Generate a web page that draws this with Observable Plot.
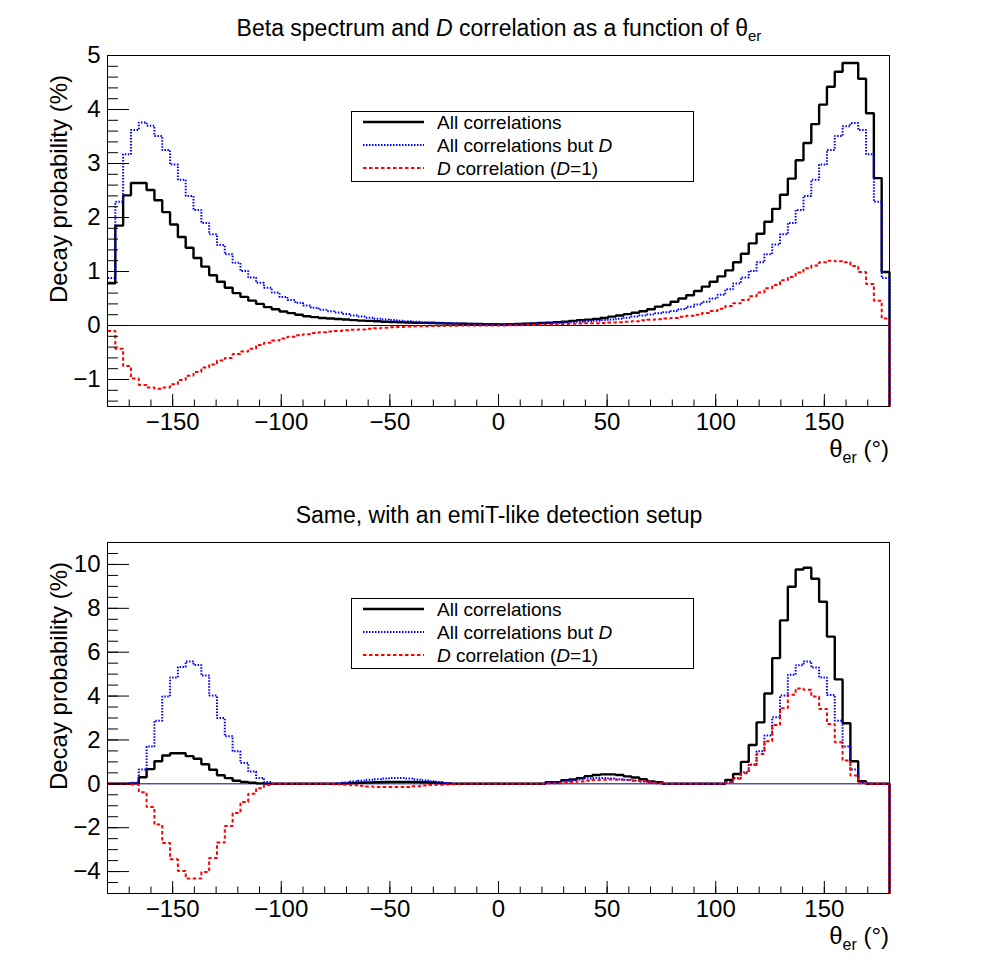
<!DOCTYPE html>
<html>
<head>
<meta charset="utf-8">
<script src="https://cdn.jsdelivr.net/npm/d3@7"></script>
<script src="https://cdn.jsdelivr.net/npm/@observablehq/plot@0.6"></script>
<style>
  html, body { margin: 0; padding: 0; background: #fff; }
  #chart { width: 998px; height: 974px; }
  #chart svg { display: block; }
</style>
</head>
<body>
<div id="chart"></div>
<script>
// 100 bins of 3.6° across θer ∈ [-180°, 180°]
const binEdges = d3.range(101).map(i => -180 + 3.6 * i);

// ---- Upper panel: full acceptance (decay probability, %) ----
const topAll = [
  0.78, 1.85, 2.41, 2.64, 2.64, 2.51, 2.32, 2.10, 1.87, 1.64,
  1.44, 1.25, 1.09, 0.93, 0.81, 0.70, 0.60, 0.53, 0.46, 0.40,
  0.34, 0.30, 0.26, 0.23, 0.20, 0.17, 0.155, 0.14, 0.13, 0.12,
  0.11, 0.10, 0.09, 0.085, 0.08, 0.07, 0.065, 0.06, 0.055, 0.05,
  0.048, 0.045, 0.042, 0.038, 0.035, 0.032, 0.03, 0.028, 0.025, 0.022,
  0.02, 0.025, 0.03, 0.032, 0.036, 0.045, 0.05, 0.062, 0.07, 0.085,
  0.10, 0.108, 0.12, 0.14, 0.165, 0.185, 0.21, 0.235, 0.265, 0.30,
  0.35, 0.38, 0.44, 0.50, 0.56, 0.64, 0.72, 0.81, 0.91, 1.02,
  1.17, 1.33, 1.52, 1.70, 1.92, 2.16, 2.42, 2.72, 3.06, 3.38,
  3.73, 4.09, 4.42, 4.70, 4.86, 4.86, 4.57, 3.93, 2.73, 0.99
];
const topAllButD = [
  0.88, 2.29, 3.17, 3.62, 3.76, 3.70, 3.51, 3.25, 2.98, 2.70,
  2.40, 2.14, 1.90, 1.69, 1.49, 1.32, 1.16, 1.01, 0.89, 0.79,
  0.70, 0.61, 0.53, 0.47, 0.42, 0.37, 0.33, 0.29, 0.265, 0.24,
  0.215, 0.185, 0.165, 0.145, 0.125, 0.11, 0.10, 0.088, 0.077, 0.068,
  0.062, 0.055, 0.05, 0.046, 0.042, 0.038, 0.034, 0.03, 0.027, 0.025,
  0.025, 0.027, 0.03, 0.034, 0.038, 0.042, 0.046, 0.05, 0.055, 0.062,
  0.068, 0.077, 0.088, 0.10, 0.11, 0.125, 0.145, 0.165, 0.185, 0.205,
  0.225, 0.245, 0.27, 0.30, 0.345, 0.39, 0.44, 0.50, 0.57, 0.67,
  0.78, 0.89, 1.01, 1.17, 1.32, 1.50, 1.69, 1.90, 2.14, 2.40,
  2.70, 2.98, 3.25, 3.51, 3.69, 3.75, 3.62, 3.17, 2.29, 0.88
];
const topD = [
  -0.10, -0.43, -0.75, -0.98, -1.10, -1.15, -1.17, -1.15, -1.09, -1.01,
  -0.93, -0.86, -0.78, -0.72, -0.65, -0.60, -0.53, -0.48, -0.43, -0.36,
  -0.32, -0.28, -0.24, -0.21, -0.18, -0.16, -0.14, -0.125, -0.11, -0.10,
  -0.09, -0.08, -0.074, -0.062, -0.05, -0.04, -0.032, -0.026, -0.02, -0.015,
  -0.012, -0.01, -0.008, -0.005, -0.003, -0.002, 0, 0, 0, 0,
  0, 0.003, 0.005, 0.008, 0.01, 0.015, 0.02, 0.025, 0.03, 0.033,
  0.037, 0.04, 0.043, 0.048, 0.055, 0.06, 0.068, 0.078, 0.095, 0.105,
  0.115, 0.13, 0.14, 0.16, 0.18, 0.20, 0.23, 0.27, 0.31, 0.36,
  0.41, 0.47, 0.54, 0.61, 0.69, 0.75, 0.84, 0.90, 0.98, 1.06,
  1.11, 1.17, 1.20, 1.19, 1.17, 1.10, 0.99, 0.77, 0.46, 0.13
];

// ---- Lower panel: emiT-like detection setup ----
const emitAll = [
  0, 0, 0, 0.02, 0.30, 0.67, 1.03, 1.29, 1.39, 1.39,
  1.26, 1.14, 0.89, 0.64, 0.39, 0.26, 0.14, 0.09, 0.05, 0.02,
  0.01, 0, 0, 0, 0, 0, 0, 0, 0, 0,
  0.02, 0.04, 0.05, 0.06, 0.07, 0.08, 0.09, 0.09, 0.09, 0.08,
  0.07, 0.06, 0.04, 0.02, 0, 0, 0, 0, 0, 0,
  0, 0, 0, 0, 0, 0, 0.07, 0.07, 0.16, 0.20,
  0.26, 0.35, 0.40, 0.43, 0.43, 0.40, 0.34, 0.29, 0.21, 0.11,
  0.07, 0, 0, 0, 0, 0, 0, 0, 0, 0.18,
  0.45, 1.00, 1.77, 2.80, 4.12, 5.73, 7.45, 8.98, 9.77, 9.85,
  9.35, 8.30, 6.71, 4.76, 2.76, 1.03, 0.12, 0, 0, 0
];
const emitAllButD = [
  0, 0, 0.01, 0.05, 0.65, 1.70, 2.88, 3.98, 4.85, 5.33,
  5.58, 5.42, 4.94, 4.02, 3.00, 2.17, 1.48, 0.95, 0.56, 0.27,
  0.08, 0, 0, 0, 0, 0, 0, 0, 0, 0.02,
  0.06, 0.10, 0.14, 0.18, 0.21, 0.24, 0.26, 0.26, 0.24, 0.20,
  0.16, 0.12, 0.08, 0.04, 0, 0, 0, 0, 0, 0,
  0, 0, 0, 0, 0, 0, 0.04, 0.08, 0.12, 0.16,
  0.20, 0.24, 0.26, 0.26, 0.24, 0.21, 0.18, 0.14, 0.10, 0.06,
  0.02, 0, 0, 0, 0, 0, 0, 0, 0, 0.08,
  0.27, 0.53, 0.88, 1.48, 2.20, 3.03, 4.02, 4.97, 5.41, 5.58,
  5.30, 4.85, 4.05, 2.88, 1.70, 0.65, 0.05, 0.01, 0, 0
];
const emitD = [
  0, 0, -0.01, -0.03, -0.38, -1.06, -1.86, -2.70, -3.44, -3.97,
  -4.32, -4.32, -4.02, -3.38, -2.68, -1.92, -1.33, -0.83, -0.45, -0.20,
  -0.05, 0, 0, 0, 0, 0, 0, 0, 0, -0.02,
  -0.04, -0.06, -0.09, -0.12, -0.14, -0.15, -0.15, -0.15, -0.14, -0.11,
  -0.08, -0.05, -0.04, -0.03, -0.02, 0, 0, 0, 0, 0,
  0, 0, 0, 0, 0, 0, 0.02, 0.03, 0.05, 0.08,
  0.11, 0.14, 0.17, 0.19, 0.20, 0.19, 0.17, 0.15, 0.12, 0.07,
  0.03, 0, 0, 0, 0, 0, 0, 0, 0, 0.08,
  0.23, 0.48, 0.86, 1.36, 1.94, 2.68, 3.44, 4.06, 4.35, 4.29,
  3.98, 3.41, 2.73, 1.89, 1.06, 0.38, 0.03, 0, 0, 0
];

// ---- Axis ticks ----
const xMajor = [-150, -100, -50, 0, 50, 100, 150];
const xMinor = d3.range(-170, 171, 10);
const topYDomain = [-1.5, 5.0];
const topYMajor = [-1, 0, 1, 2, 3, 4, 5];
const topYMinor = d3.range(-14, 51, 2).map(v => v / 10);
const emitYDomain = [-5, 11];
const emitYMajor = [-4, -2, 0, 2, 4, 6, 8, 10];
const emitYMinor = d3.range(-10, 23, 1).map(v => v / 2);

const FONT = "'Liberation Sans', Arial, Helvetica, sans-serif";
const W = 998, H = 487, ML = 107, MR = 109, MT = 55, MB = 81;
const FW = W - ML - MR, FH = H - MT - MB;

const fmt = d3.format("d");

// Histogram outline: one point per bin low edge, closing at the last edge
// and dropping down to the bottom of the frame on the right-hand side.
function steps(values, yMin) {
  const pts = values.map((v, i) => ({x: binEdges[i], y: v}));
  pts.push({x: binEdges[binEdges.length - 1], y: values[values.length - 1]});
  pts.push({x: binEdges[binEdges.length - 1], y: yMin});
  return pts;
}

const lineBase = {x: "x", y: "y", curve: "step-after", strokeLinejoin: "miter", strokeLinecap: "butt"};

function panel({all, butD, dCorr, yDomain, yMajor, yMinor, title}) {
  const svg = Plot.plot({
    width: W, height: H,
    marginLeft: ML, marginRight: MR, marginTop: MT, marginBottom: MB,
    x: {domain: [-180, 180]},
    y: {domain: yDomain},
    style: {fontFamily: FONT, background: "white", color: "black"},
    marks: [
      Plot.ruleY([0], {stroke: "#000080", strokeWidth: 1}),
      Plot.line(steps(all, yDomain[0]), {...lineBase, stroke: "black", strokeWidth: 2.4}),
      Plot.line(steps(butD, yDomain[0]), {...lineBase, stroke: "#0000ff", strokeWidth: 2, strokeDasharray: "1.5 1.5"}),
      Plot.line(steps(dCorr, yDomain[0]), {...lineBase, stroke: "#ff0000", strokeWidth: 2, strokeDasharray: "3.5 2.5"}),
      Plot.tickX(xMinor, {x: d => d, insetTop: FH - 6.5, stroke: "black"}),
      Plot.tickX(xMajor, {x: d => d, insetTop: FH - 12, stroke: "black"}),
      Plot.tickY(yMinor, {y: d => d, insetRight: FW - 11, stroke: "black"}),
      Plot.tickY(yMajor, {y: d => d, insetRight: FW - 22, stroke: "black"}),
      Plot.frame({stroke: "black", strokeWidth: 1}),
      Plot.axisX(xMajor, {tickSize: 0, tickPadding: 6, fontSize: 24, tickFormat: fmt, label: null}),
      Plot.axisY(yMajor, {tickSize: 0, tickPadding: 7, fontSize: 24, tickFormat: fmt, label: null})
    ]
  });

  const s = d3.select(svg).style("font-family", FONT);

  // Panel title
  s.append("text")
    .attr("x", W / 2).attr("y", 36)
    .attr("text-anchor", "middle")
    .attr("font-size", 23)
    .call(title);

  // Axis titles
  const xt = s.append("text")
    .attr("x", ML + FW).attr("y", 457)
    .attr("text-anchor", "end")
    .attr("font-size", 24);
  xt.append("tspan").text("θ");
  xt.append("tspan").attr("dy", 6).attr("font-size", 16).text("er");
  xt.append("tspan").attr("dy", -6).text(" (°)");

  s.append("text")
    .attr("transform", `translate(67,75) rotate(-90)`)
    .attr("text-anchor", "end")
    .attr("font-size", 24)
    .text("Decay probability (%)");

  // Legend
  const lg = s.append("g").attr("text-anchor", "start");
  lg.append("rect")
    .attr("x", 351.5).attr("y", 111.5).attr("width", 342).attr("height", 70)
    .attr("fill", "white").attr("stroke", "black").attr("stroke-width", 1);
  const rows = [
    {y: 122, stroke: "black", w: 2.4, dash: null, label: t => t.text("All correlations")},
    {y: 145, stroke: "#0000ff", w: 2, dash: "1.5 1.5", label: t => {
      t.append("tspan").text("All correlations but ");
      t.append("tspan").attr("font-style", "italic").text("D");
    }},
    {y: 168, stroke: "#ff0000", w: 2, dash: "3.5 2.5", label: t => {
      t.append("tspan").attr("font-style", "italic").text("D");
      t.append("tspan").text(" correlation (");
      t.append("tspan").attr("font-style", "italic").text("D");
      t.append("tspan").text("=1)");
    }}
  ];
  for (const r of rows) {
    lg.append("line")
      .attr("x1", 363).attr("x2", 424).attr("y1", r.y).attr("y2", r.y)
      .attr("stroke", r.stroke).attr("stroke-width", r.w)
      .attr("stroke-dasharray", r.dash);
    const t = lg.append("text")
      .attr("x", 437).attr("y", r.y + 6.5)
      .attr("text-anchor", "start")
      .attr("font-size", 19);
    r.label(t);
  }
  return svg;
}

const chart = document.getElementById("chart");

chart.append(panel({
  all: topAll, butD: topAllButD, dCorr: topD,
  yDomain: topYDomain, yMajor: topYMajor, yMinor: topYMinor,
  title: t => {
    t.append("tspan").text("Beta spectrum and ");
    t.append("tspan").attr("font-style", "italic").text("D");
    t.append("tspan").text(" correlation as a function of θ");
    t.append("tspan").attr("dy", 5).attr("font-size", 15).text("er");
  }
}));

chart.append(panel({
  all: emitAll, butD: emitAllButD, dCorr: emitD,
  yDomain: emitYDomain, yMajor: emitYMajor, yMinor: emitYMinor,
  title: t => t.text("Same, with an emiT-like detection setup")
}));
</script>
</body>
</html>
